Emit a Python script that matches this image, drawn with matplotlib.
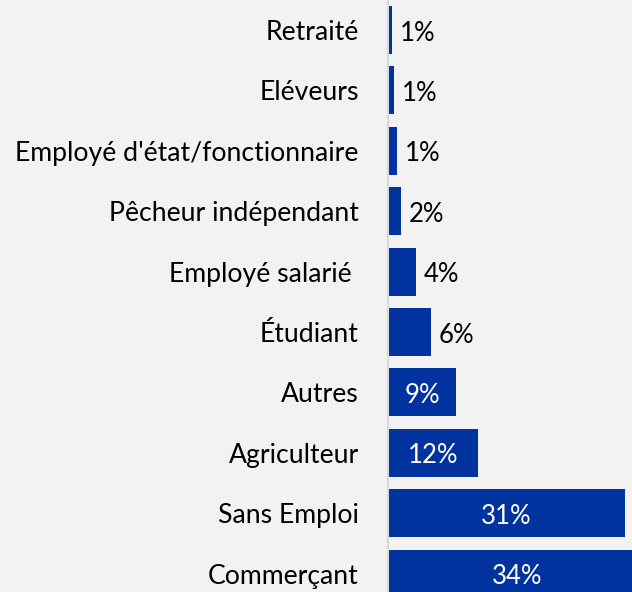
import matplotlib.pyplot as plt

# Data
categories = ["Retraité", "Eléveurs", "Employé d'état/fonctionnaire",
              "Pêcheur indépendant", "Employé salarié ", "Étudiant",
              "Autres", "Agriculteur", "Sans Emploi", "Commerçant"]
values = [0.5, 0.8, 1.2, 1.7, 3.7, 5.7, 9.0, 11.8, 31.2, 34.0]
labels = ["1%", "1%", "1%", "2%", "4%", "6%", "9%", "12%", "31%", "34%"]

bg = "#F2F2F2"
bar_color = "#0033A0"

plt.rcParams['font.family'] = ['Lato', 'DejaVu Sans']

fig = plt.figure(figsize=(6.32, 5.92), dpi=100, facecolor=bg)
ax = fig.add_axes([388 / 632, 0, 1 - 388 / 632, 1])
ax.set_facecolor(bg)

pos = list(range(len(categories)))
ax.barh(pos, values, height=0.795, color=bar_color)

ax.set_xlim(0, 32.1)
ax.set_ylim(9.305, -0.497)

for i, (v, lab) in enumerate(zip(values, labels)):
    if v >= 8:
        ax.text(v / 2, i + 0.05, lab, ha='center', va='center',
                color='white', fontsize=18.5)
    else:
        ax.text(v + 1.0, i + 0.05, lab, ha='left', va='center',
                color='black', fontsize=18.5)

ax.set_yticks(pos)
ax.set_yticklabels(categories, fontsize=19.2)
ax.tick_params(axis='y', length=0, pad=21)
ax.set_xticks([])

for s in ['top', 'right', 'bottom']:
    ax.spines[s].set_visible(False)
ax.spines['left'].set_color('#D9D9D9')
ax.spines['left'].set_linewidth(1.5)

fig.savefig("out.png", dpi=100, facecolor=bg)
